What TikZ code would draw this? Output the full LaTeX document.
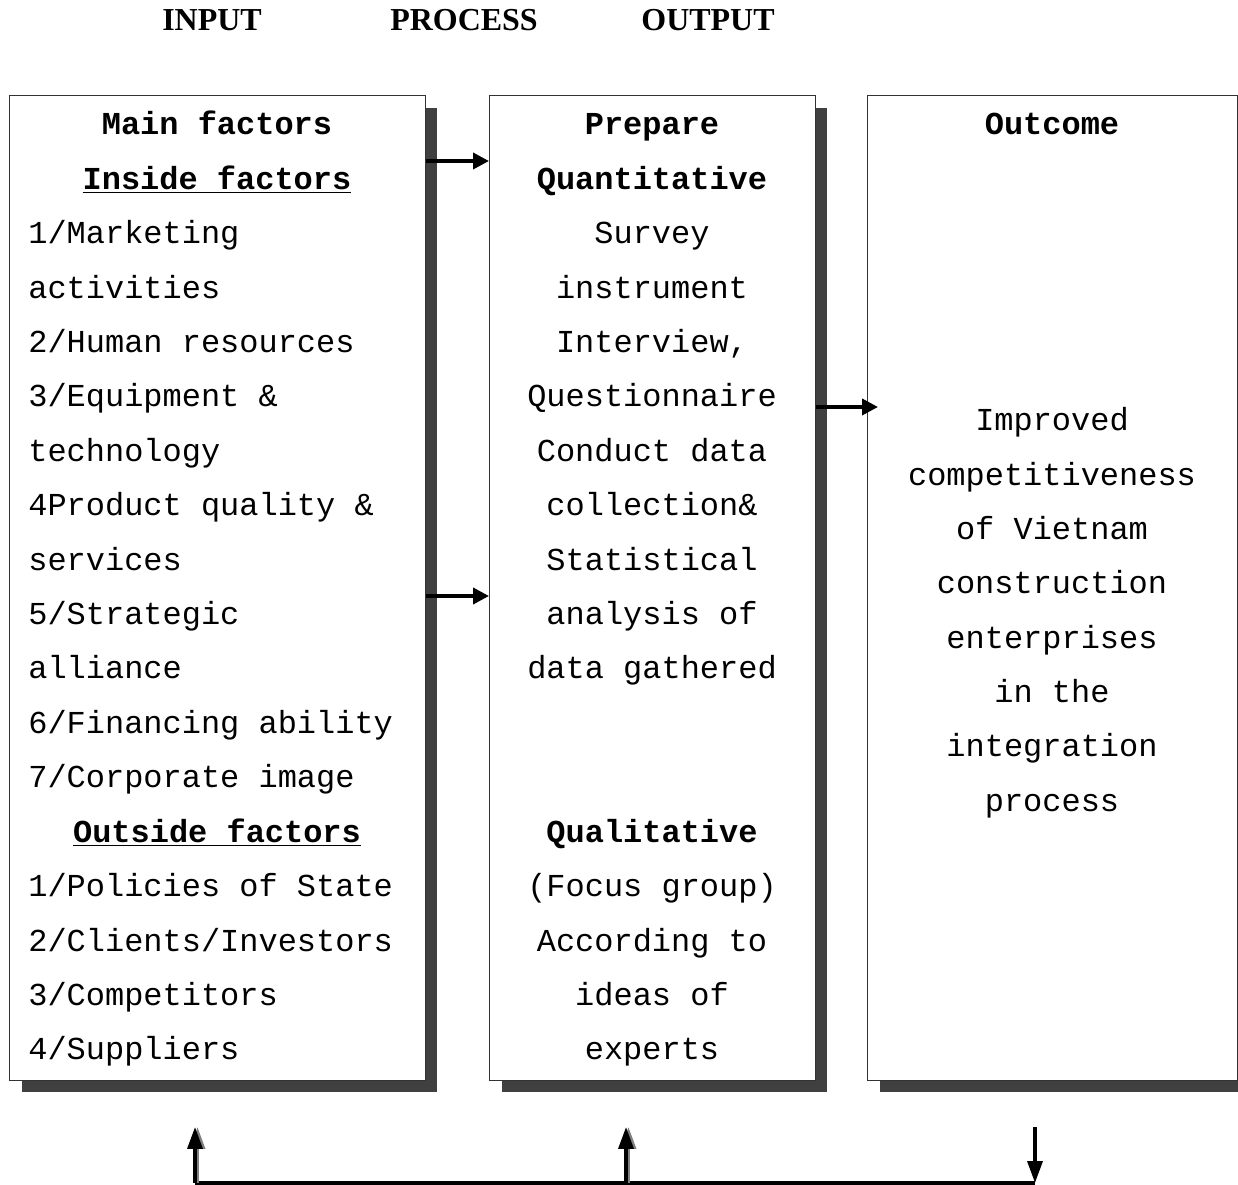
\documentclass[tikz,border=0pt]{standalone}
\usepackage{fontspec}
\usepackage{tikz}
\usetikzlibrary{arrows.meta,shadows,positioning}
\newfontfamily\monofont{Liberation Mono}
\newfontfamily\titlefont{Liberation Serif}
\tikzset{
  box/.style={draw=black!80, line width=0.6pt, fill=white, anchor=north west, inner sep=0pt,
    drop shadow={shadow xshift=0.24cm, shadow yshift=-0.24cm, fill=black!75, opacity=1}},
  row/.style={font=\monofont\fontsize{18.2}{20}\selectfont, inner sep=0pt},
  rowb/.style={row, font=\monofont\bfseries\fontsize{18.2}{20}\selectfont},
  head/.style={font=\titlefont\bfseries\fontsize{18.2}{20}\selectfont, inner sep=0pt, anchor=base},
  arr/.style={line width=2.1pt, -{Triangle[length=0.32cm,width=0.32cm]}},
  fb/.style={line width=2pt},
  fbarr/.style={line width=2pt, -{Triangle[length=0.44cm,width=0.3cm]}}
}
\begin{document}
\begin{tikzpicture}[x=0.02cm, y=-0.02cm]
\useasboundingbox (0,0) rectangle (1238,1185);
% column titles
\node[head] (tin) at (212,31) {INPUT};
\node[head] (tproc) at (464,31) {PROCESS};
\node[head] (tout) at (708,31) {OUTPUT};
% the three boxes
\node[box, minimum width=8.32cm, minimum height=19.7cm] (inp) at (9,95) {};
\node[box, minimum width=6.52cm, minimum height=19.7cm] (proc) at (489,95) {};
\node[box, minimum width=7.4cm, minimum height=19.7cm] (out) at (867,95) {};
% input box
\node[rowb, anchor=base] (in0) at (217,135) {Main factors};
\node[rowb, anchor=base] (in1) at (217,190) {\underline{Inside factors}};
\foreach \t [count=\i from 2] in {{1/Marketing},{activities},{2/Human resources},{3/Equipment \&},{technology},{4Product quality \&},{services},{5/Strategic},{alliance},{6/Financing ability},{7/Corporate image}}
  \node[row, anchor=base west] (in\i) at (28,{135+54.4*\i}) {\t};
\node[rowb, anchor=base] (in13) at (217,{135+54.4*13}) {\underline{Outside factors}};
\foreach \t [count=\i from 14] in {{1/Policies of State},{2/Clients/Investors},{3/Competitors},{4/Suppliers}}
  \node[row, anchor=base west] (in\i) at (28,{135+54.4*\i}) {\t};
% process box
\node[rowb, anchor=base] (pr0) at (652,135) {Prepare};
\node[rowb, anchor=base] (pr1) at (652,190) {Quantitative};
\foreach \t [count=\i from 2] in {{Survey},{instrument},{Interview,},{Questionnaire},{Conduct data},{collection\&},{Statistical},{analysis of},{data gathered}}
  \node[row, anchor=base] (pr\i) at (652,{135+54.4*\i}) {\t};
\node[rowb, anchor=base] (pr13) at (652,{135+54.4*13}) {Qualitative};
\foreach \t [count=\i from 14] in {{(Focus group)},{According to},{ideas of},{experts}}
  \node[row, anchor=base] (pr\i) at (652,{135+54.4*\i}) {\t};
% output box
\node[rowb, anchor=base] (ou0) at (1052,135) {Outcome};
\foreach \t [count=\i from 0] in {{Improved},{competitiveness},{of Vietnam},{construction},{enterprises},{in the},{integration},{process}}
  \node[row, anchor=base] (ou\i) at (1052,{431+54.3*\i}) {\t};
% arrows between boxes
\draw[arr] (inp.east |- 0,161) -- (proc.west |- 0,161);
\draw[arr] (inp.east |- 0,596) -- (proc.west |- 0,596);
\draw[arr] (proc.east |- 0,407) -- ([xshift=0.22cm]out.west |- 0,407);
% feedback line
\coordinate (fbA) at (195,1183);
\coordinate (fbB) at (626,1183);
\coordinate (fbC) at (1035,1183);
\draw[fb] (fbA) -- (fbC);
\draw[fbarr, gray] ([xshift=0.05cm]fbA) -- ++(0,-56);
\draw[fbarr] (fbA) -- ++(0,-56);
\draw[fbarr, gray] ([xshift=0.05cm]fbB) -- ++(0,-56);
\draw[fbarr] (fbB) -- ++(0,-56);
\draw[fbarr] ([yshift=1.12cm]fbC) -- (fbC);
\end{tikzpicture}
\end{document}
